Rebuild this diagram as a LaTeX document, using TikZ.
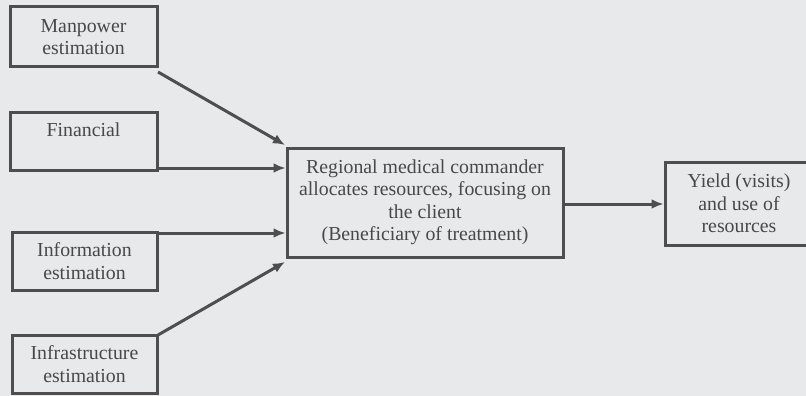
\documentclass[tikz,border=0pt]{standalone}
\usepackage{fontspec}
\setmainfont{Liberation Serif}
\usetikzlibrary{arrows.meta}
\definecolor{bg}{RGB}{232,233,235}
\definecolor{ln}{RGB}{78,78,78}
\definecolor{tx}{RGB}{72,72,72}
\begin{document}
\begin{tikzpicture}[x=1pt,y=-1pt,
  box/.style={draw=ln,line width=3pt,fill=bg,text=tx,align=center,inner sep=0pt,font=\fontsize{19.8}{22.5}\selectfont},
  arr/.style={draw=ln,line width=3pt,-{Latex[length=12pt,width=10pt]}}]
\fill[bg] (0,0) rectangle (806,396);
\useasboundingbox (0,0) rectangle (806,396);
\begin{scope}
\clip (0,0) rectangle (806,396);
\node[box,minimum width=147pt,minimum height=60pt] (man) at (83.5,37) {Manpower\\estimation};
\node[box,minimum width=147pt,minimum height=58pt] (fin) at (83.5,141) {};
\node[text=tx,font=\fontsize{19.8}{22.5}\selectfont] (fint) at (83.5,130) {Financial};
\node[box,minimum width=145pt,minimum height=58pt] (inf) at (84.5,261) {Information\\estimation};
\node[box,minimum width=145pt,minimum height=58pt] (infra) at (84.5,364) {Infrastructure\\estimation};
\node[box,minimum width=276pt,minimum height=109pt] (cen) at (425,202.5) {Regional medical commander\\allocates resources, focusing on\\the client\\(Beneficiary of treatment)};
\node[box,minimum width=148pt,minimum height=83pt] (yld) at (739,203.5) {Yield (visits)\\and use of\\resources};
\end{scope}
\coordinate (a1) at (158,72);
\coordinate (a2) at (285,145);
\draw[arr] (a1) -- (a2);
\draw[arr] (fin.east |- 0,168) -- (cen.west |- 0,168);
\draw[arr] (inf.east |- 0,233) -- (cen.west |- 0,233);
\coordinate (b1) at (158,335);
\coordinate (b2) at (285,262);
\draw[arr] (b1) -- (b2);
\draw[arr] (cen.east |- 0,204) -- (yld.west |- 0,204);
\end{tikzpicture}
\end{document}
